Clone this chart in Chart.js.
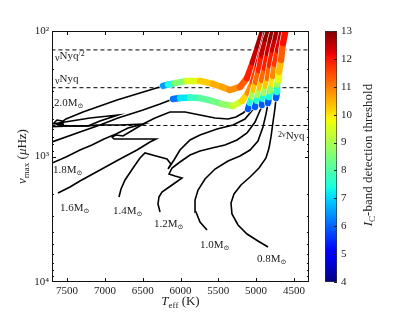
<!DOCTYPE html>
<html>
<head>
<meta charset="utf-8">
<script src="https://cdn.jsdelivr.net/npm/chart.js@4.4.0/dist/chart.umd.min.js"></script>
<style>
  html, body { margin: 0; padding: 0; background: #fff; }
  #wrap { position: relative; width: 415px; height: 313px; }
  #main { position: absolute; left: 0; top: 0; }
  #bar { position: absolute; left: 300px; top: 0; }
</style>
</head>
<body>
<div id="wrap">
  <canvas id="main" width="415" height="313"></canvas>
  <canvas id="bar" width="115" height="313"></canvas>
</div>
<script>
// axis ticks
const xTicks = [7500, 7000, 6500, 6000, 5500, 5000, 4500];
const yTicks = [100, 1000, 10000];
const yTickLabels = ['10\u00B2', '10\u00B3', '10\u2074'];
const cbTicks = [4, 5, 6, 7, 8, 9, 10, 11, 12, 13];

// Nyquist frequency levels (muHz): nyq/2, nyq, 2 nyq
const nyqLevels = [141.5, 283, 566];

// evolutionary tracks before the RGB (black): Teff (K), numax (muHz)
const masses = ['2.0', '1.8', '1.6', '1.4', '1.2', '1.0', '0.8'];

const teff20 = [7793, 7700, 7528, 7197, 6827, 7065, 7224, 7462, 7621, 7674, 7634, 7568, 7554, 7607, 7515, 7290, 7065, 6840, 6536, 6231];
const numax20 = [561, 551, 531, 493, 467, 521, 571, 571, 561, 541, 512, 521, 551, 551, 502, 442, 396, 355, 312, 274];

const teff18 = [7793, 7700, 7515, 7330, 7171, 7012, 6853, 6694, 6496, 6800, 7105, 7224, 7462, 7793, 7859, 7793, 7700, 7330, 7065, 6827, 6496, 6271, 6099];
const numax18 = [1190, 1127, 1009, 888, 810, 725, 662, 593, 551, 561, 561, 571, 571, 582, 810, 810, 766, 638, 561, 493, 426, 382, 348];

const teff16 = [7621, 7462, 7330, 7065, 6800, 6575, 6404, 6324, 6562, 6774, 6880, 6906, 6853, 6761, 6628, 6496, 6337, 6139, 5940, 5742, 5543, 5371, 5266, 5173, 5107];
const numax16 = [1954, 1750, 1568, 1281, 1047, 888, 766, 725, 725, 725, 725, 699, 674, 687, 615, 551, 493, 442, 442, 467, 493, 503, 485, 450, 418];

const teff14 = [6814, 6787, 6734, 6628, 6536, 6470, 6324, 6179, 6126, 6165, 6086, 6007, 5874, 5742, 5517, 5305, 5147, 5014];
const numax14 = [2102, 1816, 1539, 1235, 1028, 938, 991, 1047, 1148, 1258, 1066, 888, 739, 674, 604, 561, 503, 403];

const teff12 = [6271, 6298, 6285, 6245, 6112, 5980, 6073, 6152, 6112, 6007, 5874, 5742, 5583, 5412, 5252, 5120, 5014, 4922];
const numax12 = [2768, 2391, 2102, 1918, 1687, 1484, 1430, 1379, 1235, 1106, 973, 904, 856, 810, 739, 650, 531, 396];

const teff10 = [5649, 5742, 5795, 5808, 5768, 5676, 5543, 5371, 5213, 5080, 4975, 4909, 4869, 4842];
const numax10 = [3853, 3326, 2768, 2222, 1849, 1511, 1258, 1086, 991, 888, 752, 582, 459, 375];

const teff08 = [4842, 4975, 5120, 5239, 5319, 5332, 5292, 5200, 5080, 4961, 4869, 4829, 4803, 4776, 4750, 4736];
const numax08 = [5262, 4713, 4145, 3514, 2872, 2347, 1990, 1687, 1457, 1235, 1028, 856, 699, 531, 411, 342];

// red giant branch part, coloured by Ic-band detection threshold
const rgbTeff20 = [6231, 6165, 6073, 5914, 5742, 5570, 5451, 5345, 5213, 5120, 5041, 4975, 4909, 4882];
const rgbNumax20 = [274, 267, 260, 250, 250, 264, 279, 295, 279, 237, 177, 134, 100, 90];
const ic20 = [6.0, 7.0, 8.0, 9.2, 10.0, 10.5, 10.6, 10.7, 11.0, 11.6, 12.2, 12.6, 12.9, 13.0];

const rgbTeff18 = [6099, 6007, 5874, 5742, 5583, 5451, 5305, 5186, 5107, 5041, 4975, 4909, 4856, 4842];
const rgbNumax18 = [348, 342, 339, 342, 361, 382, 396, 361, 312, 255, 187, 134, 100, 90];
const ic18 = [5.5, 6.8, 7.5, 8.0, 8.3, 8.5, 9.0, 9.8, 10.5, 11.2, 12.0, 12.5, 12.9, 13.0];

const rgbTeff16 = [5107, 5080, 5054, 5028, 5001, 4961, 4922, 4869, 4816];
const rgbNumax16 = [418, 375, 336, 295, 255, 205, 155, 118, 95];
const ic16 = [5.0, 6.8, 8.2, 9.8, 10.8, 11.6, 12.2, 12.7, 13.0];

const rgbTeff14 = [5014, 4988, 4975, 4948, 4922, 4882, 4842, 4803, 4763];
const rgbNumax14 = [403, 361, 324, 285, 246, 197, 150, 118, 95];
const ic14 = [5.0, 6.8, 8.2, 9.8, 10.8, 11.6, 12.2, 12.7, 12.9];

const rgbTeff12 = [4922, 4909, 4895, 4869, 4842, 4816, 4776, 4736, 4710];
const rgbNumax12 = [389, 348, 312, 274, 237, 187, 142, 114, 95];
const ic12 = [5.0, 6.8, 8.2, 9.8, 10.8, 11.6, 12.2, 12.6, 12.8];

const rgbTeff10 = [4842, 4829, 4816, 4789, 4776, 4750, 4710, 4670, 4644];
const rgbNumax10 = [375, 336, 301, 264, 228, 183, 142, 114, 95];
const ic10 = [5.0, 6.8, 8.0, 9.5, 10.5, 11.3, 12.0, 12.4, 12.6];

const rgbTeff08 = [4736, 4723, 4723, 4710, 4697, 4670, 4644, 4604];
const rgbNumax08 = [342, 306, 269, 246, 212, 170, 125, 95];
const ic08 = [5.0, 6.8, 8.3, 9.3, 10.0, 10.8, 11.8, 12.3];

// where the mass labels sit (Teff, numax of the text's left baseline)
const labelTeff = [7674, 7687, 7594, 6893, 6351, 5742, 4988];
const labelNumax = [396, 1354, 2718, 2872, 3645, 5358, 6929];

const tracks = [
  [teff20, numax20, rgbTeff20, rgbNumax20, ic20],
  [teff18, numax18, rgbTeff18, rgbNumax18, ic18],
  [teff16, numax16, rgbTeff16, rgbNumax16, ic16],
  [teff14, numax14, rgbTeff14, rgbNumax14, ic14],
  [teff12, numax12, rgbTeff12, rgbNumax12, ic12],
  [teff10, numax10, rgbTeff10, rgbNumax10, ic10],
  [teff08, numax08, rgbTeff08, rgbNumax08, ic08]
];

const FONT = '"Liberation Serif", "DejaVu Serif", serif';
const TEXT = '#222';

// matplotlib jet colormap
const jetR = [[0, 0], [0.35, 0], [0.66, 1], [0.89, 1], [1, 0.5]];
const jetG = [[0, 0], [0.125, 0], [0.375, 1], [0.64, 1], [0.91, 0], [1, 0]];
const jetB = [[0, 0.5], [0.11, 1], [0.34, 1], [0.65, 0], [1, 0]];
function seg(s, t) {
  for (let i = 1; i < s.length; i++) {
    if (t <= s[i][0]) {
      const [t0, v0] = s[i - 1], [t1, v1] = s[i];
      return v0 + (v1 - v0) * (t - t0) / (t1 - t0);
    }
  }
  return s[s.length - 1][1];
}
function jetT(t) {
  t = Math.min(1, Math.max(0, t));
  return 'rgb(' + Math.round(255 * seg(jetR, t)) + ',' + Math.round(255 * seg(jetG, t)) + ',' + Math.round(255 * seg(jetB, t)) + ')';
}
function jet(v) { return jetT((v - 4) / 9); }

function zip(xs, ys) { return xs.map((x, i) => ({ x: x, y: ys[i] })); }

//builds all datasets
const datasets = [];
nyqLevels.forEach(v => {
  datasets.push({
    data: [{ x: 7800, y: v }, { x: 4200, y: v }],
    showLine: true, borderColor: '#000', borderWidth: 1, borderDash: [4, 3],
    pointRadius: 0, order: 100
  });
});
tracks.forEach((t, k) => {
  datasets.push({
    data: zip(t[0], t[1]), showLine: true, borderColor: '#000', borderWidth: 1.6,
    pointRadius: 0, order: 90
  });
  const ic = t[4];
  // thin white edge so the bands stay apart where they overlap
  datasets.push({
    data: zip(t[2], t[3]), showLine: true, borderColor: '#fff', borderWidth: 7.6,
    borderCapStyle: 'round', borderJoinStyle: 'round', pointRadius: 0, order: 2 * (6 - k) + 1
  });
  datasets.push({
    data: zip(t[2], t[3]), showLine: true, borderWidth: 6.4,
    borderCapStyle: 'round', borderJoinStyle: 'round', pointRadius: 0, order: 2 * (6 - k),
    borderColor: jet(ic[0]),
    segment: { borderColor: c => jet((ic[c.p0DataIndex] + ic[c.p1DataIndex]) / 2) }
  });
});

// draws text made of parts with different sizes (sub/superscripts)
function fontOf(p) { return (p.it ? 'italic ' : '') + p.s + 'px ' + FONT; }
function richText(ctx, x, y, parts, align) {
  let w = 0;
  parts.forEach(p => { ctx.font = fontOf(p); w += ctx.measureText(p.t).width; });
  let cx = align === 'center' ? x - w / 2 : x;
  parts.forEach(p => {
    ctx.font = fontOf(p);
    ctx.fillText(p.t, cx, y + (p.dy || 0));
    cx += ctx.measureText(p.t).width;
  });
}

const decor = {
  id: 'decor',
  afterDraw(chart) {
    const { ctx, chartArea: a, scales: { x, y } } = chart;
    ctx.save();
    ctx.strokeStyle = '#111';
    ctx.lineWidth = 1;
    ctx.strokeRect(a.left + 0.5, a.top + 0.5, a.right - a.left - 1, a.bottom - a.top - 1);
    ctx.beginPath();
    xTicks.forEach(v => {
      const px = Math.round(x.getPixelForValue(v)) + 0.5;
      ctx.moveTo(px, a.bottom); ctx.lineTo(px, a.bottom - 4);
      ctx.moveTo(px, a.top); ctx.lineTo(px, a.top + 4);
    });
    [100, 1000].forEach(d => {
      for (let k = 1; k <= 9; k++) {
        const py = Math.round(y.getPixelForValue(k * d)) + 0.5;
        const len = k === 1 ? 4 : 2;
        ctx.moveTo(a.left, py); ctx.lineTo(a.left + len, py);
        ctx.moveTo(a.right, py); ctx.lineTo(a.right - len, py);
      }
    });
    ctx.stroke();

    ctx.fillStyle = TEXT;
    ctx.textBaseline = 'alphabetic';
    ctx.textAlign = 'left';
    masses.forEach((m, i) => {
      const px = x.getPixelForValue(labelTeff[i]);
      const py = y.getPixelForValue(labelNumax[i]);
      richText(ctx, px, py, [{ t: m + 'M', s: 11 }, { t: '\u2299', s: 7, dy: 2 }]);
    });
    const lx = x.getPixelForValue(7660);
    richText(ctx, lx, y.getPixelForValue(167), [{ t: '\u03BD', s: 10, dy: 2 }, { t: 'Nyq', s: 11 }, { t: '/2', s: 8, dy: -3 }]);
    richText(ctx, lx, y.getPixelForValue(255), [{ t: '\u03BD', s: 10, dy: 2 }, { t: 'Nyq', s: 11 }]);
    richText(ctx, x.getPixelForValue(4710), y.getPixelForValue(725), [{ t: '2\u03BD', s: 8, dy: -2 }, { t: 'Nyq', s: 11 }]);

    // axis titles
    richText(ctx, (a.left + a.right) / 2, 305, [{ t: 'T', s: 13, it: true }, { t: 'eff', s: 9, dy: 3 }, { t: ' (K)', s: 13 }], 'center');
    ctx.translate(26, (a.top + a.bottom) / 2);
    ctx.rotate(-Math.PI / 2);
    richText(ctx, 0, 0, [{ t: '\u03BD', s: 13, it: true }, { t: 'max', s: 9, dy: 3 }, { t: ' (', s: 13 }, { t: '\u03BC', s: 13, it: true }, { t: 'Hz)', s: 13 }], 'center');
    ctx.restore();
  }
};

new Chart(document.getElementById('main'), {
  type: 'scatter',
  data: { datasets: datasets },
  options: {
    responsive: false,
    animation: false,
    layout: { padding: { left: 0, top: 31, right: 106, bottom: 0 } },
    plugins: { legend: { display: false }, tooltip: { enabled: false } },
    scales: {
      x: {
        type: 'linear', reverse: true, min: 4300, max: 7700,
        afterBuildTicks: s => { s.ticks = xTicks.map(v => ({ value: v })); },
        grid: { display: false, drawTicks: false },
        border: { display: false },
        ticks: {
          padding: 3, color: TEXT, font: { family: FONT, size: 11 }, autoSkip: false, maxRotation: 0,
          callback: v => String(v)
        },
        afterFit: s => { s.height = 31; }
      },
      y: {
        type: 'logarithmic', reverse: true, min: 100, max: 10000,
        afterBuildTicks: s => { s.ticks = yTicks.map(v => ({ value: v })); },
        grid: { display: false, drawTicks: false },
        border: { display: false },
        ticks: {
          padding: 3, color: TEXT, font: { family: FONT, size: 11 }, autoSkip: false,
          callback: v => { const i = yTicks.indexOf(v); return i >= 0 ? yTickLabels[i] : ''; }
        },
        afterFit: s => { s.width = 52; }
      }
    }
  },
  plugins: [decor]
});

// colour bar
const cbDecor = {
  id: 'cbDecor',
  afterDraw(chart) {
    const { ctx, chartArea: a, scales: { y } } = chart;
    ctx.save();
    ctx.strokeStyle = '#222';
    ctx.lineWidth = 1;
    ctx.beginPath();
    cbTicks.forEach(v => {
      const py = Math.round(y.getPixelForValue(v)) + 0.5;
      ctx.moveTo(a.right, py); ctx.lineTo(a.right - 3, py);
    });
    ctx.stroke();
    ctx.fillStyle = TEXT;
    ctx.translate(72, 155);
    ctx.rotate(-Math.PI / 2);
    richText(ctx, 0, 0, [{ t: 'I', s: 13, it: true }, { t: 'C', s: 9, dy: 3 }, { t: '-band detection threshold', s: 13 }], 'center');
    ctx.restore();
  }
};

new Chart(document.getElementById('bar'), {
  type: 'bar',
  data: {
    labels: [''],
    datasets: [{
      data: [[cbTicks[0], cbTicks[cbTicks.length - 1]]],
      backgroundColor: c => {
        const a = c.chart.chartArea;
        if (!a) return '#888';
        const g = c.chart.ctx.createLinearGradient(0, a.bottom, 0, a.top);
        [0, 0.11, 0.125, 0.34, 0.35, 0.375, 0.64, 0.65, 0.66, 0.89, 0.91, 1].forEach(t => g.addColorStop(t, jetT(t)));
        return g;
      },
      borderColor: '#333', borderWidth: 1, borderSkipped: false,
      barPercentage: 1, categoryPercentage: 1
    }]
  },
  options: {
    responsive: false,
    animation: false,
    layout: { padding: { left: 25, top: 31, bottom: 31, right: 0 } },
    plugins: { legend: { display: false }, tooltip: { enabled: false } },
    scales: {
      x: { display: false },
      y: {
        position: 'right', min: 4, max: 13,
        afterBuildTicks: s => { s.ticks = cbTicks.map(v => ({ value: v })); },
        grid: { display: false, drawTicks: false },
        border: { display: false },
        ticks: { padding: 4, color: TEXT, font: { family: FONT, size: 11 } },
        afterFit: s => { s.width = 78; }
      }
    }
  },
  plugins: [cbDecor]
});
</script>
</body>
</html>
